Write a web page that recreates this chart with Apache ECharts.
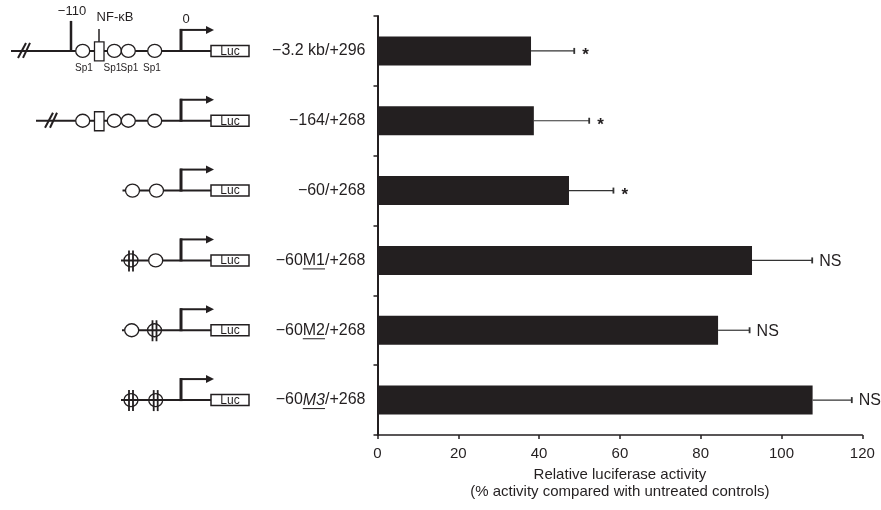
<!DOCTYPE html>
<html>
<head>
<meta charset="utf-8">
<script src="https://cdn.jsdelivr.net/npm/echarts@6/dist/echarts.min.js"></script>
<style>
html,body{margin:0;padding:0;background:#fff;}
#chart{width:881px;height:510px;}
</style>
</head>
<body>
<div id="chart"></div>
<script>
// ---- data ----
const categories = ['\u22123.2 kb/+296', '\u2212164/+268', '\u221260/+268', '\u221260M1/+268', '\u221260M2/+268', '\u221260M3/+268'];
const activity = [38.0, 38.7, 47.4, 92.7, 84.3, 107.7];
const errorUpper = [48.7, 52.4, 58.4, 107.6, 92.1, 117.4];
const significance = ['*', '*', '*', 'NS', 'NS', 'NS'];
const xTickValues = [0, 20, 40, 60, 80, 100, 120];
const axisTitle = 'Relative luciferase activity\n(% activity compared with untreated controls)';

const INK = '#231f20';
const FONT = "'Liberation Sans', Arial, Helvetica, sans-serif";

const chart = echarts.init(document.getElementById('chart'), null, {renderer: 'canvas'});

function fmtLabel(v) {
  return v.replace(/M([12])/, '{u|M$1}').replace(/M3/, '{ui|M3}');
}

const option = {
  backgroundColor: '#fff',
  animation: false,
  textStyle: {fontFamily: FONT, color: INK},
  grid: {left: 377.5, right: 18.7, top: 16, bottom: 75, containLabel: false},
  xAxis: {
    type: 'value',
    min: xTickValues[0],
    max: xTickValues[xTickValues.length - 1],
    interval: xTickValues[1] - xTickValues[0],
    splitLine: {show: false},
    axisLine: {show: true, lineStyle: {color: INK, width: 1.5}},
    axisTick: {show: true, length: 4, lineStyle: {color: INK, width: 1.5}},
    axisLabel: {fontSize: 15, color: INK, margin: 11, fontFamily: FONT},
    name: axisTitle,
    nameLocation: 'middle',
    nameGap: 31,
    nameTextStyle: {fontSize: 15, color: INK, lineHeight: 17, fontFamily: FONT}
  },
  yAxis: {
    type: 'category',
    data: categories,
    inverse: true,
    axisLine: {show: true, onZero: false, lineStyle: {color: INK, width: 2}},
    axisTick: {show: true, length: 4, lineStyle: {color: INK, width: 1.5}},
    axisLabel: {
      fontSize: 16, color: INK, margin: 12, fontFamily: FONT,
      formatter: fmtLabel,
      rich: {
        u: {fontSize: 16, color: INK, fontFamily: FONT},
        ui: {fontSize: 16, color: INK, fontFamily: FONT, fontStyle: 'italic'}
      }
    },
    splitLine: {show: false}
  },
  series: [
    {
      type: 'bar',
      data: activity,
      barWidth: 29,
      itemStyle: {color: INK},
      z: 2
    },
    {
      type: 'custom',
      data: activity.map((v, i) => [i, v, errorUpper[i], significance[i]]),
      encode: {x: [1, 2], y: 0},
      z: 3,
      renderItem: function (params, api) {
        const idx = api.value(0);
        const p0 = api.coord([api.value(1), idx]);
        const p1 = api.coord([api.value(2), idx]);
        const mark = significance[params.dataIndex];
        const isStar = mark === '*';
        return {
          type: 'group',
          children: [
            {type: 'line', shape: {x1: p0[0], y1: p0[1], x2: p1[0], y2: p1[1]}, style: {stroke: '#333', lineWidth: 1.2}},
            {type: 'line', shape: {x1: p1[0], y1: p1[1] - 3, x2: p1[0], y2: p1[1] + 3}, style: {stroke: '#333', lineWidth: 1.8}},
            {type: 'text', style: {
              text: mark, x: p1[0] + (isStar ? 8 : 7), y: p1[1] + (isStar ? 4.5 : 1),
              align: 'left', verticalAlign: 'middle',
              font: isStar ? 'bold 17px ' + FONT : '16px ' + FONT, fill: INK
            }}
          ]
        };
      }
    }
  ]
};

chart.setOption(option);

// ---- promoter diagrams and label underlines (layout, positioned from the axis) ----
const g = [];
function L(x1, y1, x2, y2, w) {
  g.push({type: 'line', silent: true, shape: {x1, y1, x2, y2}, style: {stroke: INK, lineWidth: w, lineCap: 'butt'}});
}
function E(cx, cy, filled) {
  g.push({type: 'ellipse', silent: true, shape: {cx, cy, rx: 7, ry: 6.5}, style: {fill: filled ? '#fff' : 'none', stroke: INK, lineWidth: 1.3}});
}
function T(text, x, y, size, align) {
  g.push({type: 'text', silent: true, style: {text, x, y, font: size + 'px ' + FONT, fill: INK, align: align || 'center', verticalAlign: 'middle'}});
}
function site(x, cy) { E(x, cy, true); }
function mutant(x, cy) {
  E(x, cy, false);
  L(x - 2, cy - 10, x - 2, cy + 11, 1.8);
  L(x + 2, cy - 10, x + 2, cy + 11, 1.8);
}
function breakMark(bx, cy) {
  L(bx - 6, cy + 7, bx + 2, cy - 8, 2);
  L(bx - 1, cy + 7, bx + 6, cy - 8, 2);
}
function tssAndLuc(cy) {
  L(181, cy + 1, 181, cy - 22, 3);
  L(180, cy - 21, 207, cy - 21, 2);
  g.push({type: 'polygon', silent: true, shape: {points: [[206, cy - 25], [214, cy - 21], [206, cy - 17]]}, style: {fill: INK}});
  g.push({type: 'rect', silent: true, shape: {x: 211, y: cy - 5.5, width: 38, height: 11}, style: {fill: '#fff', stroke: INK, lineWidth: 1.5}});
  T('Luc', 230, cy + 0.5, 12);
}

const rowY = categories.map((c, i) => chart.convertToPixel({gridIndex: 0}, [0, i])[1]);

// row 1: -3.2 kb
(function (cy) {
  L(11, cy, 211, cy, 2);
  breakMark(24, cy);
  L(71, cy, 71, cy - 30, 2.5);
  T('\u2212110', 72, cy - 39, 13);
  site(82.7, cy);
  L(99, cy - 9, 99, cy - 22, 1.5);
  g.push({type: 'rect', silent: true, shape: {x: 94.5, y: cy - 9, width: 9.5, height: 19}, style: {fill: '#fff', stroke: INK, lineWidth: 1.3}});
  site(114.3, cy); site(128.3, cy); site(154.7, cy);
  T('NF-\u03baB', 115, cy - 33, 13);
  T('0', 186, cy - 31, 13);
  T('Sp1', 84, cy + 17, 10); T('Sp1', 112.5, cy + 17, 10); T('Sp1', 129.5, cy + 17, 10); T('Sp1', 152, cy + 17, 10);
  tssAndLuc(cy);
})(rowY[0]);

// row 2: -164
(function (cy) {
  L(36, cy, 211, cy, 2);
  breakMark(51, cy);
  site(82.7, cy);
  g.push({type: 'rect', silent: true, shape: {x: 94.5, y: cy - 9, width: 9.5, height: 19}, style: {fill: '#fff', stroke: INK, lineWidth: 1.3}});
  site(114.3, cy); site(128.3, cy); site(154.7, cy);
  tssAndLuc(cy);
})(rowY[1]);

// row 3: -60
(function (cy) {
  L(122.5, cy, 211, cy, 2);
  site(132.5, cy); site(156.5, cy);
  tssAndLuc(cy);
})(rowY[2]);

// row 4: -60M1
(function (cy) {
  L(121, cy, 211, cy, 2);
  mutant(131, cy); site(155.7, cy);
  tssAndLuc(cy);
})(rowY[3]);

// row 5: -60M2
(function (cy) {
  L(122, cy, 211, cy, 2);
  site(131.7, cy); mutant(154.5, cy);
  tssAndLuc(cy);
})(rowY[4]);

// row 6: -60M3
(function (cy) {
  L(121, cy, 211, cy, 2);
  mutant(131, cy); mutant(155.7, cy);
  tssAndLuc(cy);
})(rowY[5]);

// underlines under mutant names in the axis labels
const ctx = document.createElement('canvas').getContext('2d');
function mw(text, italic) { ctx.font = (italic ? 'italic ' : '') + '16px ' + FONT; return ctx.measureText(text).width; }
const axisX = chart.convertToPixel({gridIndex: 0}, [0, 0])[0];
const labelRight = axisX - 12;
categories.forEach((c, i) => {
  const m = c.match(/^(.*?)(M\d)(.*)$/);
  if (!m) return;
  const italic = m[2] === 'M3';
  const wPre = mw(m[1], false), wSeg = mw(m[2], italic), wPost = mw(m[3], false);
  const start = labelRight - (wPre + wSeg + wPost) + wPre;
  const y = rowY[i] + 8.5;
  L(start, y, start + wSeg, y, 1);
});

chart.setOption({graphic: {elements: g}});
</script>
</body>
</html>
